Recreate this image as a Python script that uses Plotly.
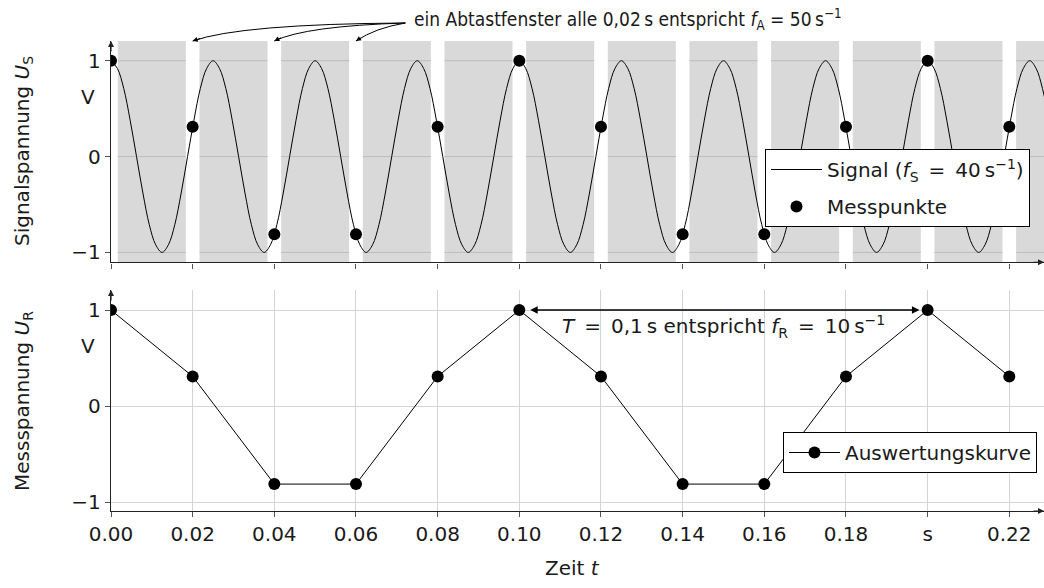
import plotly.graph_objects as go

# ---------------- data ----------------
sample_times = [0.00, 0.02, 0.04, 0.06, 0.08, 0.10, 0.12, 0.14, 0.16, 0.18, 0.20, 0.22]
sample_values = [1.0, 0.31, -0.81, -0.81, 0.31, 1.0, 0.31, -0.81, -0.81, 0.31, 1.0, 0.31]
x_tick_text = ["0.00", "0.02", "0.04", "0.06", "0.08", "0.10", "0.12", "0.14", "0.16", "0.18", "s", "0.22"]
y_tick_vals = [-1, 0, 1]
y_tick_text = ["\u22121", "0", "1"]

signal_frequency = 40.0                      # f_S = 40 s^-1 (legend)
signal_shape_per_period = [1.0, 0.92, 0.71, 0.38, 0.0, -0.38, -0.71, -0.92,
                           -1.0, -0.92, -0.71, -0.38, 0.0, 0.38, 0.71, 0.92]  # one period of the signal
signal_periods = 10                          # periods drawn (clipped at axis end)

window_half_gap = 0.00167                   # white gap around each sampling instant

# ---------------- derived ----------------
period = 1.0 / signal_frequency
n_sub = len(signal_shape_per_period)
signal_t, signal_v = [], []
for i in range(signal_periods * n_sub + 1):
    signal_t.append(i * period / n_sub)
    signal_v.append(signal_shape_per_period[i % n_sub])

XMAX = 0.2285
FONT = "DejaVu Sans"
FONT_NARROW = "DejaVu Sans Condensed, Liberation Sans, DejaVu Sans"
TXT = "#1a1a1a"
EQ = "\u2002=\u2002"

fig = go.Figure()

# top panel: signal + sampling points
fig.add_trace(go.Scatter(
    x=signal_t, y=signal_v, mode="lines", line=dict(color="black", width=1, shape="spline"),
    name=f"Signal (<i>f</i><sub>S</sub>{EQ}40\u2009s<sup>\u22121</sup>)",
    xaxis="x", yaxis="y", legend="legend", legendgroup="a"))
fig.add_trace(go.Scatter(
    x=sample_times, y=sample_values, mode="markers", marker=dict(color="black", size=12),
    name="Messpunkte", xaxis="x", yaxis="y", legend="legend", legendgroup="b"))

# bottom panel: evaluation curve
fig.add_trace(go.Scatter(
    x=sample_times, y=sample_values, mode="lines+markers",
    line=dict(color="black", width=1), marker=dict(color="black", size=12),
    name="Auswertungskurve", xaxis="x2", yaxis="y2", legend="legend2"))

shapes = []
# gray sampling windows between the sampling instants, with horizontal grid segments on them
band_edges = sample_times + [XMAX + window_half_gap]
for a, b in zip(band_edges[:-1], band_edges[1:]):
    x0 = a + window_half_gap
    x1 = min(b - window_half_gap, XMAX)
    shapes.append(dict(type="rect", xref="x", yref="y domain", x0=x0, x1=x1, y0=0, y1=1,
                       fillcolor="#d9d9d9", line=dict(width=0), layer="below"))
for a, b in zip(band_edges[:-1], band_edges[1:]):
    x0 = a + window_half_gap
    x1 = min(b - window_half_gap, XMAX)
    for yv in y_tick_vals:
        shapes.append(dict(type="line", xref="x", yref="y", x0=x0, x1=x1, y0=yv, y1=yv,
                           line=dict(color="#bcbcbc", width=1), layer="below"))


def px_to_paper_y(p):
    return (511.0 - p) / 470.0


def t_to_paper_x(t):
    return t / XMAX


# curved arrows from the top annotation to the first three gaps
tail = (0.0721, px_to_paper_y(23))
ctrl = [(0.0317, px_to_paper_y(24)), (0.0476, px_to_paper_y(26)), (0.0647, px_to_paper_y(28))]
tips = [sample_times[1], sample_times[2], sample_times[3]]
head_offsets = [(9, -3), (8, -4), (6, -4)]
annotations = []
for (cx, cy), tt, (hx, hy) in zip(ctrl, tips, head_offsets):
    x0, y0 = t_to_paper_x(tail[0]), tail[1]
    x1, y1 = t_to_paper_x(cx), cy
    x2, y2 = t_to_paper_x(tt), px_to_paper_y(41)
    shapes.append(dict(type="path", xref="paper", yref="paper",
                       path=f"M{x0:.5f},{y0:.5f} Q{x1:.5f},{y1:.5f} {x2:.5f},{y2:.5f}",
                       line=dict(color="black", width=1)))
    annotations.append(dict(xref="paper", yref="paper", x=x2, y=y2, ax=hx, ay=hy, text="",
                            showarrow=True, arrowhead=2, arrowsize=1, arrowwidth=1,
                            arrowcolor="black"))

annotations.append(dict(
    xref="paper", yref="paper", x=t_to_paper_x(0.0738), y=px_to_paper_y(19),
    xanchor="left", yanchor="middle", showarrow=False,
    text="ein Abtastfenster alle 0,02\u2009s entspricht <i>f</i><sub>A</sub> = 50\u2009s<sup>\u22121</sup>",
    font=dict(family=FONT_NARROW, size=19, color=TXT)))

# axis end arrows
for xa, ya, ytop, ybot in (("x", "y", 1.206, -1.104), ("x2", "y2", 1.208, -1.09)):
    annotations.append(dict(xref=xa, yref=ya, x=0, y=ytop, ax=0, ay=12, text="", showarrow=True,
                            arrowhead=2, arrowsize=1, arrowwidth=1.2, arrowcolor="#222"))
    annotations.append(dict(xref=xa, yref=ya, x=XMAX, y=ybot, ax=-12, ay=0, text="", showarrow=True,
                            arrowhead=2, arrowsize=1, arrowwidth=1.2, arrowcolor="#222"))
    # unit label "V"
    annotations.append(dict(xref=xa, yref=ya, x=0, y=0.625, xshift=-23, text="V", showarrow=False,
                            xanchor="center", yanchor="middle",
                            font=dict(family=FONT, size=20, color=TXT)))

# period arrow in bottom panel
annotations.append(dict(xref="x2", yref="y2", x=0.198, y=1.0, axref="x2", ayref="y2",
                        ax=0.1023, ay=1.0, text="", showarrow=True, arrowside="end+start",
                        arrowhead=2, arrowsize=1, arrowwidth=1.5, arrowcolor="black"))
annotations.append(dict(xref="x2", yref="y2", x=0.15, y=0.83, showarrow=False,
                        xanchor="center", yanchor="middle",
                        text=f"<i>T</i>{EQ}0,1\u2009s entspricht <i>f</i><sub>R</sub>{EQ}10\u2009s<sup>\u22121</sup>",
                        font=dict(family=FONT, size=20, color=TXT)))

# axis titles
annotations.append(dict(xref="paper", yref="paper", x=(23 - 111) / 933, y=px_to_paper_y(151),
                        textangle=-90, showarrow=False, xanchor="center", yanchor="middle",
                        text="Signalspannung <i>U</i><sub>S</sub>",
                        font=dict(family=FONT, size=20, color=TXT)))
annotations.append(dict(xref="paper", yref="paper", x=(23 - 111) / 933, y=px_to_paper_y(401),
                        textangle=-90, showarrow=False, xanchor="center", yanchor="middle",
                        text="Messspannung <i>U</i><sub>R</sub>",
                        font=dict(family=FONT, size=20, color=TXT)))
annotations.append(dict(xref="paper", yref="paper", x=(572 - 111) / 933, y=px_to_paper_y(568),
                        showarrow=False, xanchor="center", yanchor="middle",
                        text="Zeit <i>t</i>", font=dict(family=FONT, size=20, color=TXT)))

xcommon = dict(range=[0, XMAX], tickvals=sample_times, ticks="outside", ticklen=5,
               tickcolor="#555", showline=True, linecolor="#222", linewidth=1.3,
               zeroline=False, tickfont=dict(family=FONT, size=20, color=TXT))
ycommon = dict(tickvals=y_tick_vals, ticktext=y_tick_text, ticks="outside", ticklen=5,
               tickcolor="#555", showline=True, linecolor="#222", linewidth=1.3,
               zeroline=False, gridwidth=1,
               tickfont=dict(family=FONT, size=20, color=TXT))

fig.update_layout(
    width=1044, height=588,
    margin=dict(l=111, r=0, t=41, b=77, autoexpand=False),
    paper_bgcolor="white", plot_bgcolor="white",
    font=dict(family=FONT, size=20, color=TXT),
    xaxis=dict(**xcommon, domain=[0, 1], anchor="y", showgrid=False, showticklabels=False),
    yaxis=dict(**ycommon, domain=[0.529, 1.0], anchor="x", range=[-1.104, 1.206], showgrid=False),
    xaxis2=dict(**xcommon, domain=[0, 1], anchor="y2", showgrid=True, gridcolor="#d4d4d4",
                ticktext=x_tick_text, showticklabels=True),
    yaxis2=dict(**ycommon, domain=[0.0, 0.470], anchor="x2", range=[-1.09, 1.208],
                showgrid=True, gridcolor="#d4d4d4"),
    legend=dict(x=(765 - 111) / 933, y=px_to_paper_y(149), xanchor="left", yanchor="top",
                bgcolor="white", bordercolor="black", borderwidth=1,
                font=dict(family=FONT, size=20, color=TXT), tracegroupgap=8,
                traceorder="grouped", itemwidth=51),
    legend2=dict(x=(783 - 111) / 933, y=px_to_paper_y(432), xanchor="left", yanchor="top",
                 bgcolor="white", bordercolor="black", borderwidth=1,
                 font=dict(family=FONT, size=20, color=TXT), itemwidth=51),
    shapes=shapes,
    annotations=annotations,
    showlegend=True,
)

# remove the default page margin so the 1044x588 figure fills the window exactly
fig.write_html("out.html", config={"displayModeBar": False},
               post_script="document.body.style.margin='0';document.body.style.overflow='hidden';")
